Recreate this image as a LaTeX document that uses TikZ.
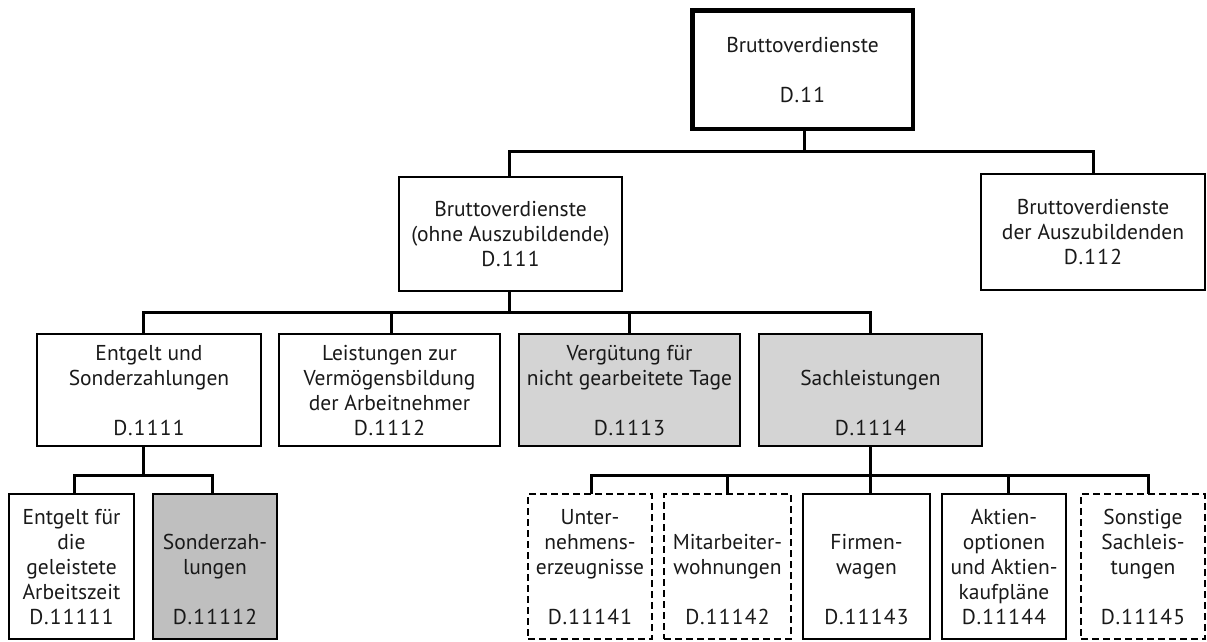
\documentclass[tikz,border=0pt]{standalone}
\usepackage{fontspec}
\setmainfont{PT Sans}
\newcommand\ls{\rule[-5pt]{0pt}{25pt}}
\newcommand\code[1]{{\addfontfeatures{LetterSpace=6}#1}}
\begin{document}
\begin{tikzpicture}[x=1pt,y=-1pt,
  box/.style={draw, line width=2pt, inner sep=0pt, outer sep=0pt, align=center,
    font=\fontsize{21.5}{25}\selectfont, text=black!90},
  dbox/.style={box, dash pattern=on 7pt off 4pt},
  topbox/.style={box, line width=4.5pt},
  lgray/.style={fill=black!17},
  dgray/.style={fill=black!25},
  conn/.style={line width=3pt, line join=miter}]
\useasboundingbox (0,0) rectangle (1207,641);
% level 0
\node[topbox, minimum width=220.5pt, minimum height=118.5pt] (top) at (802.5,69.5)
  {\ls Bruttoverdienste\\\ls\\\ls \code{D.11}};
% level 1
\node[box, minimum width=223pt, minimum height=114pt] (d111) at (510.5,234)
  {\ls Bruttoverdienste\\\ls (ohne Auszubildende)\\\ls \code{D.111}};
\node[box, minimum width=224pt, minimum height=116pt] (d112) at (1093,232)
  {\ls Bruttoverdienste\\\ls der Auszubildenden\\\ls \code{D.112}};
% level 2
\node[box, minimum width=224pt, minimum height=112pt] (d1111) at (149,390)
  {\ls Entgelt und\\\ls Sonderzahlungen\\\ls\\\ls \code{D.1111}};
\node[box, minimum width=221pt, minimum height=112pt] (d1112) at (389.5,390)
  {\ls Leistungen zur\\\ls Vermögensbildung\\\ls der Arbeitnehmer\\\ls \code{D.1112}};
\node[box, lgray, minimum width=221pt, minimum height=112pt] (d1113) at (629.5,390)
  {\ls Vergütung für\\\ls nicht gearbeitete Tage\\\ls\\\ls \code{D.1113}};
\node[box, lgray, minimum width=223pt, minimum height=112pt] (d1114) at (870.5,390)
  {\ls\\\ls Sachleistungen\\\ls\\\ls \code{D.1114}};
% level 3 left
\node[box, minimum width=125pt, minimum height=145pt] (d11111) at (71.5,566.5)
  {\ls Entgelt für\\\ls die\\\ls geleistete\\\ls Arbeitszeit\\\ls \code{D.11111}};
\node[box, dgray, minimum width=124pt, minimum height=145pt] (d11112) at (215,566.5)
  {\ls\\\ls Sonderzah-\\\ls lungen\\\ls\\\ls \code{D.11112}};
% level 3 right
\node[dbox, minimum width=124pt, minimum height=145pt] (d11141) at (590,566.5)
  {\ls Unter-\\\ls nehmens-\\\ls erzeugnisse\\\ls\\\ls \code{D.11141}};
\node[dbox, minimum width=127pt, minimum height=145pt] (d11142) at (727.5,566.5)
  {\ls\\\ls Mitarbeiter-\\\ls wohnungen\\\ls\\\ls \code{D.11142}};
\node[box, minimum width=127pt, minimum height=145pt] (d11143) at (866.5,566.5)
  {\ls\\\ls Firmen-\\\ls wagen\\\ls\\\ls \code{D.11143}};
\node[box, minimum width=124pt, minimum height=145pt] (d11144) at (1004,566.5)
  {\ls Aktien-\\\ls optionen\\\ls und Aktien-\\\ls kaufpläne\\\ls \code{D.11144}};
\node[dbox, minimum width=124pt, minimum height=145pt] (d11145) at (1143,566.5)
  {\ls Sonstige\\\ls Sachleis-\\\ls tungen\\\ls\\\ls \code{D.11145}};
% bus levels
\coordinate (bus1) at (0,151);
\coordinate (bus2) at (0,312);
\coordinate (bus3) at (0,475);
% connector attachment points
\coordinate (pTop) at ([xshift=1.5pt]top.south);
\coordinate (p111n) at ([xshift=-1.5pt]d111.north);
\coordinate (p111s) at ([xshift=-1.5pt]d111.south);
\coordinate (p1111n) at ([xshift=-6pt]d1111.north);
\coordinate (p1111s) at ([xshift=-6pt]d1111.south);
\coordinate (p1112n) at ([xshift=1.5pt]d1112.north);
\coordinate (p1113n) at ([xshift=-0.5pt]d1113.north);
\coordinate (p11111) at ([xshift=2.5pt]d11111.north);
\coordinate (p11112) at ([xshift=-3pt]d11112.north);
\coordinate (p11141) at ([xshift=1pt]d11141.north);
\coordinate (p11144) at ([xshift=4pt]d11144.north);
\coordinate (p11145) at ([xshift=5pt]d11145.north);
% connectors level 0 -> 1
\draw[conn] (pTop) -- (pTop |- bus1);
\draw[conn] (p111n) |- (bus1 -| d112.north) -- (d112.north);
% level 1 -> 2
\draw[conn] (p111s) -- (p111s |- bus2);
\draw[conn] (p1111n) |- (bus2 -| d1114.north) -- (d1114.north);
\draw[conn] (p1112n) -- (p1112n |- bus2);
\draw[conn] (p1113n) -- (p1113n |- bus2);
% level 2 -> 3 left
\draw[conn] (p1111s) -- (p1111s |- bus3);
\draw[conn] (p11111) |- (bus3 -| p11112) -- (p11112);
% level 2 -> 3 right
\draw[conn] (d1114.south) -- (d1114.south |- d11143.north);
\draw[conn] (p11141) |- (bus3 -| p11145) -- (p11145);
\draw[conn] (d11142.north) -- (d11142.north |- bus3);
\draw[conn] (p11144) -- (p11144 |- bus3);
\end{tikzpicture}
\end{document}
